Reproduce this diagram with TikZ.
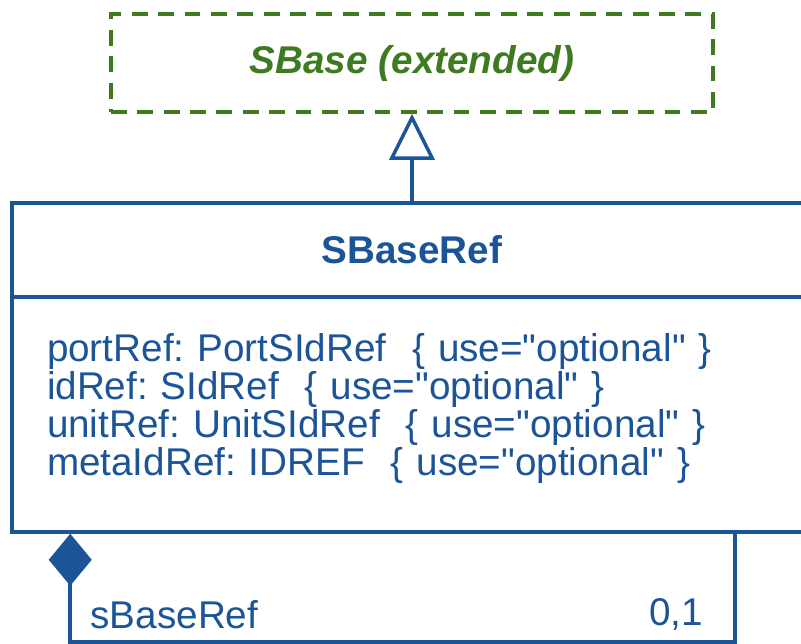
\documentclass[tikz,border=0pt]{standalone}
\usepackage{fontspec}
\setmainfont{Liberation Sans}
\definecolor{umlblue}{RGB}{28, 84, 152}
\definecolor{extgreen}{RGB}{62, 122, 32}
\usetikzlibrary{arrows.meta, positioning}
\frenchspacing
\newcommand{\opt}{\{ use=\textquotedbl optional\textquotedbl\ \}}

\begin{document}
\begin{tikzpicture}[
    bigfont/.style={font=\fontsize{22}{21.8}\selectfont},
    extbox/.style={draw=extgreen, line width=2pt, dash pattern=on 9pt off 6pt,
      minimum width=12.04cm, minimum height=1.96cm, text=extgreen,
      font=\fontsize{22}{21}\selectfont\bfseries\itshape},
    classtitle/.style={draw=umlblue, line width=2pt, minimum width=16cm,
      minimum height=1.88cm, text=umlblue, font=\fontsize{22}{21}\selectfont\bfseries},
    classbody/.style={draw=umlblue, line width=2pt, text width=14.6cm,
      inner xsep=0.7cm, minimum height=4.7cm, align=left, text=umlblue, bigfont},
    inherit/.style={draw=umlblue, line width=2pt,
      -{Triangle[open, length=0.92cm, width=0.9cm, fill=white]}},
    compose/.style={draw=umlblue, line width=2pt,
      {Diamond[length=1.04cm, width=0.86cm]}-},
    rolelabel/.style={text=umlblue, bigfont, inner sep=0pt}
  ]
  \path[use as bounding box, clip] (0,0) rectangle (16.02,-12.86);

  % extended base class
  \node[extbox] (sbase) at (8.24,-1.26) {SBase (extended)};

  % SBaseRef class
  \node[classtitle] (sbaseref) at (8.24,-5.0) {SBaseRef};
  \node[classbody, below=-2pt of sbaseref] (refbody) {%
    portRef: PortSIdRef\ \ \opt\\
    idRef: SIdRef\ \ \opt\\
    unitRef: UnitSIdRef\ \ \opt\\
    metaIdRef: IDREF\ \ \opt\par\vspace{0.24cm}};

  \draw[inherit] (sbaseref.north) -- (sbase.south);

  % composition back to itself
  \coordinate (compstart) at ([xshift=1.2cm]refbody.south west);
  \coordinate (compend) at ([xshift=14.5cm]refbody.south west);
  \coordinate (compcorner) at ([yshift=-2.16cm]compstart);
  \draw[compose] (compstart) -- (compcorner) -| (compend);
  \node[rolelabel, anchor=west] (rolename) at ([xshift=0.4cm, yshift=0.54cm]compcorner) {sBaseRef};
  \node[rolelabel, anchor=east] (multi) at ([xshift=-0.64cm, yshift=0.54cm]compcorner -| compend) {0,1};
\end{tikzpicture}
\end{document}
